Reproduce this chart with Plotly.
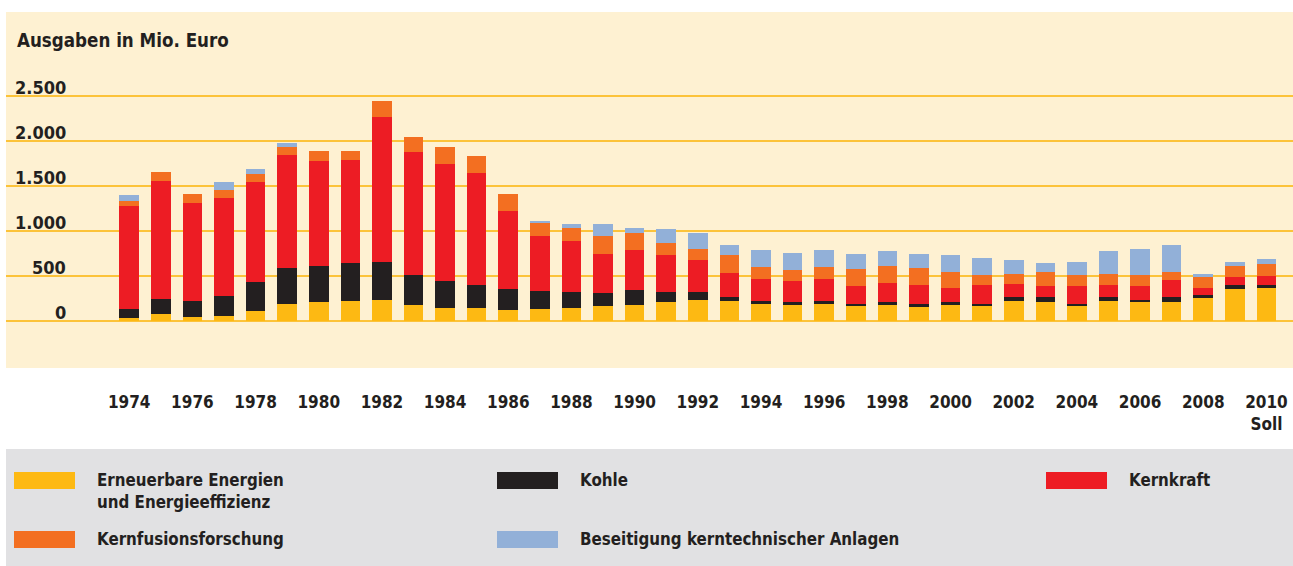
import plotly.graph_objects as go

W, H = 1293, 566

years = list(range(1974, 2011))
erneuerbare = [30, 74, 41, 59, 107, 192, 207, 222, 233, 174, 148, 148, 118, 130, 150, 165, 178, 207, 237, 222,
               192, 178, 190, 163, 178, 152, 178, 163, 222, 207, 167, 222, 222, 207, 252, 355, 366]
kohle = [100, 174, 181, 219, 330, 393, 407, 422, 422, 337, 292, 248, 234, 207, 172, 144, 162, 115, 89, 44,
         32, 29, 34, 28, 29, 40, 29, 29, 44, 59, 25, 44, 15, 59, 40, 45, 34]
kernkraft = [1150, 1310, 1088, 1091, 1102, 1261, 1162, 1147, 1617, 1369, 1310, 1251, 873, 610, 568, 436, 452, 411, 347, 263,
             244, 233, 242, 203, 219, 204, 163, 204, 145, 119, 193, 134, 148, 189, 78, 85, 100]
kernfusion = [56, 103, 100, 89, 89, 85, 115, 100, 170, 170, 185, 185, 185, 145, 146, 204, 188, 133, 130, 204,
              129, 130, 130, 187, 188, 189, 170, 115, 114, 155, 122, 125, 122, 85, 115, 129, 129]
beseitigung = [59, 0, 0, 85, 59, 49, 0, 0, 0, 0, 0, 0, 0, 14, 42, 129, 56, 155, 178, 111,
               189, 190, 192, 161, 163, 159, 189, 188, 148, 104, 152, 252, 292, 304, 40, 45, 55]

series_values = [erneuerbare, kohle, kernkraft, kernfusion, beseitigung]
series_names = ["Erneuerbare Energien<br>und Energieeffizienz", "Kohle", "Kernkraft",
                "Kernfusionsforschung", "Beseitigung kerntechnischer Anlagen"]
colors = ["#FDB913", "#231F20", "#ED1C24", "#F36F21", "#92B0D8"]

y_ticks = [0, 500, 1000, 1500, 2000, 2500]
y_tick_labels = ["0", "500", "1.000", "1.500", "2.000", "2.500"]
x_tick_vals = list(range(1974, 2011, 2))
x_tick_labels = [str(v) for v in x_tick_vals[:-1]] + ["2010<br>Soll"]

TXT = "#231F20"
FONT = "DejaVu Sans Condensed, DejaVu Sans, sans-serif"
CREAM = "#FEF1D2"
GRAY = "#E1E1E3"
GRID = "#FCC33A"

# geometry (pixels)
zero_px, px_per_unit = 321.0, 0.09
dom_top_px, dom_bot_px = 12.0, 390.0
x_left_px = 6.0
first_bar_px, bar_step_px = 129.2, 31.59

def fx(px):
    return px / W

def fy(py):
    return 1 - py / H

y_range = [(zero_px - dom_bot_px) / px_per_unit, (zero_px - dom_top_px) / px_per_unit]
x_range = [years[0] - (first_bar_px - x_left_px) / bar_step_px,
           years[0] + (W - first_bar_px) / bar_step_px]

fig = go.Figure()
for name, vals, col in zip(series_names, series_values, colors):
    fig.add_trace(go.Bar(x=years, y=vals, name=name, marker=dict(color=col, line=dict(width=0)),
                         width=0.62, showlegend=False))

shapes = [
    dict(type="rect", xref="paper", yref="paper", x0=fx(x_left_px), x1=1, y0=fy(368), y1=fy(12),
         fillcolor=CREAM, line=dict(width=0), layer="below"),
    dict(type="rect", xref="paper", yref="paper", x0=fx(x_left_px), x1=1, y0=0, y1=fy(449),
         fillcolor=GRAY, line=dict(width=0), layer="below"),
]
annotations = [
    dict(text="<b>Ausgaben in Mio. Euro</b>", xref="paper", yref="paper", x=fx(15), y=fy(40),
         xanchor="left", yanchor="middle", showarrow=False, font=dict(family=FONT, size=18.6, color=TXT)),
]
for v, lab in zip(y_ticks, y_tick_labels):
    annotations.append(dict(text="<b>" + lab + "</b>", xref="paper", yref="y", x=fx(68), y=v,
                            xanchor="right", yanchor="bottom", yshift=-4, showarrow=False,
                            font=dict(family=FONT, size=18, color=TXT)))

# legend (swatches + labels)
legend_pos = [(14, 472), (497, 472), (1046, 472), (14, 531), (497, 531)]
for (lx, ly), name, col in zip(legend_pos, series_names, colors):
    shapes.append(dict(type="rect", xref="paper", yref="paper", x0=fx(lx), x1=fx(lx + 61),
                       y0=fy(ly + 17), y1=fy(ly), fillcolor=col, line=dict(width=0)))
    annotations.append(dict(text="<b>" + name + "</b>", xref="paper", yref="paper", x=fx(lx + 81),
                            y=fy(ly - 4), xanchor="left", yanchor="top", align="left", showarrow=False,
                            font=dict(family=FONT, size=16.8, color=TXT)))

fig.update_layout(
    width=W, height=H, autosize=False,
    margin=dict(l=0, r=0, t=0, b=0, pad=0),
    paper_bgcolor="white", plot_bgcolor="rgba(0,0,0,0)",
    barmode="stack", bargap=0.38,
    shapes=shapes, annotations=annotations,
    xaxis=dict(domain=[fx(x_left_px), 1], range=x_range, tickmode="array", tickvals=x_tick_vals,
               ticktext=["<b>" + t.replace("<br>", "</b><br><b>") + "</b>" for t in x_tick_labels],
               showgrid=False, zeroline=False, showline=False, ticks="",
               tickfont=dict(family=FONT, size=17, color=TXT), fixedrange=True),
    yaxis=dict(domain=[fy(dom_bot_px), fy(dom_top_px)], range=y_range, tickmode="array", tickvals=y_ticks,
               showticklabels=False, showgrid=True, gridcolor=GRID, gridwidth=1.6, zeroline=False,
               showline=False, ticks="", fixedrange=True),
)

fig.write_html("out.html", config={"displayModeBar": False},
               post_script="document.body.style.margin='0';document.body.style.overflow='hidden';")
